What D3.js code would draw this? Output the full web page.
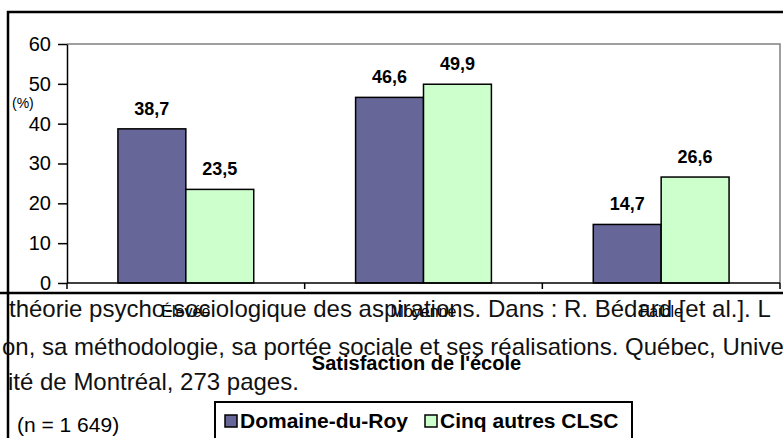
<!DOCTYPE html>
<html>
<head>
<meta charset="utf-8">
<script src="https://cdn.jsdelivr.net/npm/d3@7"></script>
<style>
  body { margin: 0; background: #fff; }
  text { font-family: "Liberation Sans", Arial, sans-serif; }
</style>
</head>
<body>
<div id="chart"></div>
<script>
// data
var categories = ["Élevée", "Moyenne", "Faible"];
var seriesNames = ["Domaine-du-Roy", "Cinq autres CLSC"];
var domaineValues = [38.7, 46.6, 14.7];
var cinqValues = [23.5, 49.9, 26.6];
var yTicks = [0, 10, 20, 30, 40, 50, 60];
var colors = ["#666699", "#CCFFCC"];

var pageLines = [
  "théorie psycho-sociologique des aspirations. Dans : R. Bédard [et al.]. L",
  "on, sa méthodologie, sa portée sociale et ses réalisations. Québec, Unive",
  "ité de Montréal, 273 pages."
];

function main() {
  var W = 783, H = 438;
  var svg = d3.select("#chart").append("svg")
    .attr("width", W)
    .attr("height", H);

  var left = 67, right = 780, top = 44, bottom = 283;

  var x = d3.scaleBand()
    .domain(categories)
    .range([left, right])
    .padding(0);

  var xs = d3.scaleBand()
    .domain(seriesNames)
    .range([0, x.bandwidth()])
    .paddingInner(0)
    .paddingOuter(0.75);

  var y = d3.scaleLinear()
    .domain([0, 60])
    .range([bottom, top]);

  // frame of the plot area (gray top / right)
  svg.append("path")
    .attr("d", "M" + left + "," + top + "H" + right + "V" + bottom)
    .attr("fill", "none")
    .attr("stroke", "#808080")
    .attr("stroke-width", 1.5);

  // bars
  var rows = categories.map(function(c, i) {
    return { cat: c, vals: [domaineValues[i], cinqValues[i]] };
  });

  var groups = svg.selectAll("g.cat")
    .data(rows)
    .enter().append("g")
    .attr("class", "cat")
    .attr("transform", function(d) { return "translate(" + x(d.cat) + ",0)"; });

  groups.selectAll("rect")
    .data(function(d) { return d.vals.map(function(v, j) { return { s: seriesNames[j], v: v, j: j }; }); })
    .enter().append("rect")
    .attr("x", function(d) { return xs(d.s); })
    .attr("y", function(d) { return y(d.v); })
    .attr("width", xs.bandwidth())
    .attr("height", function(d) { return y(0) - y(d.v); })
    .attr("fill", function(d) { return colors[d.j]; })
    .attr("stroke", "#000")
    .attr("stroke-width", 1.5);

  groups.selectAll("text.val")
    .data(function(d) { return d.vals.map(function(v, j) { return { s: seriesNames[j], v: v }; }); })
    .enter().append("text")
    .attr("class", "val")
    .attr("x", function(d) { return xs(d.s) + xs.bandwidth() / 2; })
    .attr("y", function(d) { return y(d.v) - 14; })
    .attr("text-anchor", "middle")
    .attr("font-size", 18)
    .attr("font-weight", "bold")
    .text(function(d) { return d3.format(".1f")(d.v).replace(".", ","); });

  // y axis
  var yAxis = svg.append("g")
    .attr("transform", "translate(" + left + ",0)")
    .call(d3.axisLeft(y).tickValues(yTicks).tickSize(9).tickSizeOuter(0).tickPadding(7));
  yAxis.select(".domain").attr("stroke", "#000").attr("stroke-width", 1.5);
  yAxis.selectAll(".tick line").attr("stroke", "#000").attr("stroke-width", 1.5);
  yAxis.selectAll(".tick text")
    .attr("font-size", 20)
    .attr("fill", "#000")
    .style("font-family", "'Liberation Sans', Arial, sans-serif");

  // x axis line and tick marks between categories
  svg.append("line")
    .attr("x1", left).attr("x2", right)
    .attr("y1", y(0)).attr("y2", y(0))
    .attr("stroke", "#000").attr("stroke-width", 1.5);

  var edges = categories.map(function(c) { return x(c); }).concat([x.range()[1]]);
  svg.selectAll("line.xtick")
    .data(edges)
    .enter().append("line")
    .attr("class", "xtick")
    .attr("x1", function(d) { return d; }).attr("x2", function(d) { return d; })
    .attr("y1", y(0)).attr("y2", y(0) + 6)
    .attr("stroke", "#000").attr("stroke-width", 1.5);

  svg.selectAll("text.cat")
    .data(categories)
    .enter().append("text")
    .attr("class", "cat")
    .attr("x", function(d) { return x(d) + x.bandwidth() / 2; })
    .attr("y", 317)
    .attr("text-anchor", "middle")
    .attr("font-size", 16)
    .text(function(d) { return d; });

  // (%) unit label
  svg.append("text")
    .attr("x", 12).attr("y", 108)
    .attr("font-size", 14)
    .text("(%)");

  // outer frame of the embedded chart
  svg.append("path")
    .attr("d", "M8," + H + "V12H" + W)
    .attr("fill", "none")
    .attr("stroke", "#000")
    .attr("stroke-width", 2.5);
  svg.append("line")
    .attr("x1", 0).attr("x2", W)
    .attr("y1", 293).attr("y2", 293)
    .attr("stroke", "#000").attr("stroke-width", 2.5);

  // surrounding page text
  var lineX = [9, 2, 8];
  var lineY = [317, 355, 390];
  svg.selectAll("text.page")
    .data(pageLines)
    .enter().append("text")
    .attr("class", "page")
    .attr("x", function(d, i) { return lineX[i]; })
    .attr("y", function(d, i) { return lineY[i]; })
    .attr("font-size", 24)
    .attr("fill", "#111")
    .text(function(d) { return d; });

  // x axis title
  svg.append("text")
    .attr("x", x.range()[0] + (x.range()[1] - x.range()[0]) / 2 - 7)
    .attr("y", 370)
    .attr("text-anchor", "middle")
    .attr("font-size", 20)
    .attr("font-weight", "bold")
    .text("Satisfaction de l'école");

  svg.append("text")
    .attr("x", 17).attr("y", 432)
    .attr("font-size", 21)
    .text("(n = 1 649)");

  // legend
  var legend = svg.append("g");
  legend.append("rect")
    .attr("x", 215).attr("y", 402)
    .attr("width", 417).attr("height", 60)
    .attr("fill", "#fff")
    .attr("stroke", "#000")
    .attr("stroke-width", 2);
  var legX = [225, 425];
  seriesNames.forEach(function(s, i) {
    legend.append("rect")
      .attr("x", legX[i]).attr("y", 415)
      .attr("width", 12).attr("height", 12)
      .attr("fill", colors[i])
      .attr("stroke", "#000")
      .attr("stroke-width", 1.5);
    legend.append("text")
      .attr("x", legX[i] + 15).attr("y", 428)
      .attr("font-size", 21)
      .attr("font-weight", "bold")
      .text(s);
  });
}

document.addEventListener("DOMContentLoaded", main);
</script>
</body>
</html>
